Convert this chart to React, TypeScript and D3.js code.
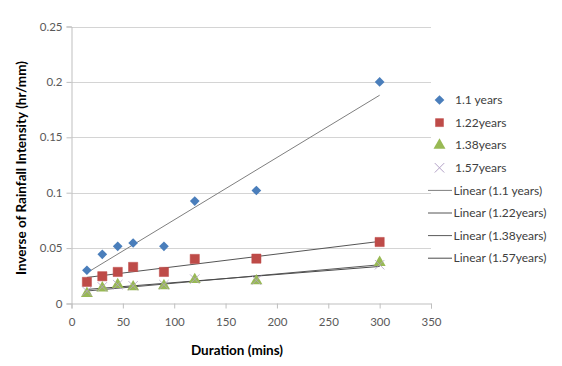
import { useEffect, useRef } from 'react';
import * as d3 from 'd3';

const durations = [15, 30, 45, 60, 90, 120, 180, 300];
const y110 = [0.030, 0.0444, 0.0516, 0.0546, 0.0516, 0.0924, 0.102, 0.2];
const y122 = [0.0195, 0.0246, 0.0285, 0.033, 0.0285, 0.0402, 0.0405, 0.0555];
const y138 = [0.009, 0.014, 0.017, 0.015, 0.016, 0.0216, 0.0204, 0.037];
const y157 = [0.011, 0.015, 0.017, 0.016, 0.017, 0.022, 0.021, 0.035];
const seriesNames = ['1.1 years', '1.22years', '1.38years', '1.57years'];
const xTicks = [0, 50, 100, 150, 200, 250, 300, 350];
const yTicks = [0, 0.05, 0.1, 0.15, 0.2, 0.25];

const FONT = 'Lato, "Open Sans", sans-serif';

function fit(xs: number[], ys: number[]) {
  const mx = d3.mean(xs)!;
  const my = d3.mean(ys)!;
  let sxy = 0, sxx = 0;
  xs.forEach((x, i) => { sxy += (x - mx) * (ys[i] - my); sxx += (x - mx) ** 2; });
  const slope = sxy / sxx;
  return { slope, intercept: my - slope * mx };
}

export default function App() {
  const svgRef = useRef<SVGSVGElement>(null);

  useEffect(() => {
    if (!svgRef.current) return;
    const svg = d3.select(svgRef.current);
    svg.selectAll('*').remove();

    const left = 71.5, right = 431, top = 26.5, bottom = 303.5;
    const x = d3.scaleLinear().domain([0, 350]).range([left, right]);
    const y = d3.scaleLinear().domain([0, 0.25]).range([bottom, top]);

    // gridlines
    svg.append('g').selectAll('line').data(yTicks.slice(1)).join('line')
      .attr('x1', left).attr('x2', right)
      .attr('y1', d => Math.round(y(d)) + 0.5).attr('y2', d => Math.round(y(d)) + 0.5)
      .attr('stroke', '#d4d4d4').attr('stroke-width', 1);

    // axes
    const xAxis = svg.append('g').attr('transform', `translate(0,${bottom})`)
      .call(d3.axisBottom(x).tickValues(xTicks).tickSize(5).tickFormat(d => String(d)));
    const yAxis = svg.append('g').attr('transform', `translate(${left},0)`)
      .call(d3.axisLeft(y).tickValues(yTicks).tickSize(5).tickFormat(d => d === 0 ? '0' : String(d)));
    [xAxis, yAxis].forEach(a => {
      a.select('.domain').attr('stroke', '#bfbfbf');
      a.selectAll('.tick line').attr('stroke', '#bfbfbf');
      a.selectAll('.tick text').attr('fill', '#595959').attr('font-size', 11.5).attr('font-family', FONT);
    });
    xAxis.selectAll('.tick text').attr('dy', '1.3em');
    yAxis.selectAll('.tick text').attr('x', -9);

    const allSeries = [y110, y122, y138, y157];

    // trendlines
    const trendColors = ['#7f7f7f', '#555555', '#5a5a5a', '#4a4a4a'];
    allSeries.forEach((ys, i) => {
      const { slope, intercept } = fit(durations, ys);
      const x0 = d3.min(durations)!, x1 = d3.max(durations)!;
      svg.append('line')
        .attr('x1', x(x0)).attr('y1', y(intercept + slope * x0))
        .attr('x2', x(x1)).attr('y2', y(intercept + slope * x1))
        .attr('stroke', trendColors[i]).attr('stroke-width', 1);
    });

    const diamond = d3.symbol().type(d3.symbolDiamond2).size(60);
    const square = d3.symbol().type(d3.symbolSquare).size(85);
    const triangle = d3.symbol().type(d3.symbolTriangle).size(62);
    const cross = d3.symbol().type(d3.symbolX).size(60);

    const marks = [
      { path: diamond()!, fill: '#4a7ebb', stroke: 'none' },
      { path: square()!, fill: '#be4b48', stroke: '#be4b48' },
      { path: triangle()!, fill: '#98b954', stroke: 'none' },
      { path: cross()!, fill: 'none', stroke: '#b3a2c7' },
    ];

    // draw order: 1.1, 1.22, 1.38, then X marks on top
    allSeries.forEach((ys, i) => {
      svg.append('g').selectAll('path').data(durations).join('path')
        .attr('d', marks[i].path)
        .attr('transform', (d, j) => `translate(${x(d)},${y(ys[j])})`)
        .attr('fill', marks[i].fill)
        .attr('stroke', marks[i].stroke)
        .attr('stroke-width', i === 3 ? 1 : 0.5)
        .attr('opacity', i === 3 ? 0.8 : 1);
    });

    // legend
    const lg = svg.append('g').attr('font-family', FONT).attr('font-size', 12).attr('fill', '#404040');
    const rowY = (i: number) => 100 + i * 22.6;
    seriesNames.forEach((name, i) => {
      lg.append('path').attr('d', i === 1 ? d3.symbol().type(d3.symbolSquare).size(64)()! : marks[i].path)
        .attr('transform', `translate(439.5,${rowY(i)})`)
        .attr('fill', marks[i].fill).attr('stroke', marks[i].stroke).attr('stroke-width', i === 3 ? 1 : 0.5);
      lg.append('text').attr('x', 455).attr('y', rowY(i)).attr('dy', '0.35em').text(name);
    });
    seriesNames.forEach((name, i) => {
      const yy = rowY(i + 4);
      lg.append('line').attr('x1', 428).attr('x2', 452).attr('y1', yy).attr('y2', yy)
        .attr('stroke', trendColors[i]).attr('stroke-width', 1);
      lg.append('text').attr('x', 453.5).attr('y', yy).attr('dy', '0.35em').text(`Linear (${name})`);
    });

    // axis titles
    svg.append('text').attr('x', 237).attr('y', 355)
      .attr('text-anchor', 'middle').attr('font-family', FONT).attr('font-weight', 'bold')
      .attr('font-size', 13.5).attr('fill', '#000').text('Duration (mins)');
    svg.append('text').attr('transform', 'translate(26,168) rotate(-90)')
      .attr('text-anchor', 'middle').attr('font-family', FONT).attr('font-weight', 'bold')
      .attr('font-size', 13.5).attr('fill', '#000').text('Inverse of Rainfall Intensity (hr/mm)');
  }, []);

  return (
    <svg ref={svgRef} width={562} height={366}
      style={{ position: 'absolute', left: 0, top: 0, background: '#fff' }} />
  );
}
